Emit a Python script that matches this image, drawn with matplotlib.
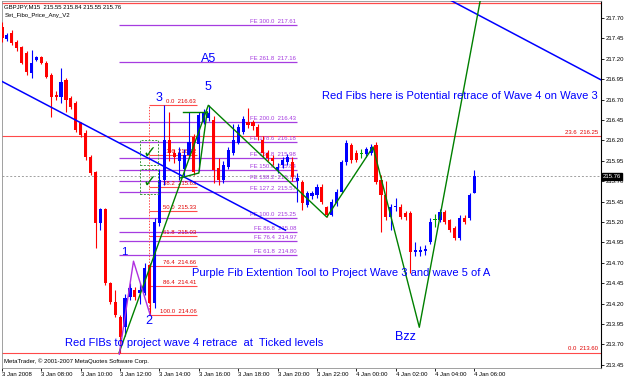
import numpy as np
import matplotlib
matplotlib.use('Agg')
import matplotlib.pyplot as plt
from matplotlib.patches import Rectangle

plt.rcParams['font.family'] = ['Liberation Sans', 'DejaVu Sans']

# ---------------------------------------------------------
# GBPJPY M15 bars, 3 Jan 2008 06:00 -> 4 Jan 2008 06:00
# (x axis is hours after 3 Jan 00:00)
# ---------------------------------------------------------
opens = [217.59, 217.44, 217.52, 217.41, 217.34, 217.27, 217.03, 217.19,
         217.22, 217.15, 217.00, 216.76, 216.73, 216.94, 216.72, 216.66,
         216.41, 216.29, 216.00, 215.81, 215.19, 215.36, 214.45, 214.22,
         214.04, 213.91, 214.28, 214.37, 214.33, 214.33, 214.67, 214.21,
         215.19, 215.71, 216.20, 216.05, 215.95, 215.85, 216.02, 216.24,
         216.15, 216.43, 216.47, 216.45, 215.86, 215.71, 215.87, 216.05,
         216.17, 216.30, 216.43, 216.42, 216.36, 216.20, 216.05, 215.99,
         215.84, 215.90, 215.94, 215.94, 215.70, 215.69, 215.41, 215.52,
         215.53, 215.63, 215.38, 215.29, 215.43, 215.57, 215.94, 216.14,
         216.05, 216.03, 216.03, 216.05, 216.14, 215.71, 215.53, 215.26,
         215.38, 215.38, 215.31, 215.31, 214.83, 214.83, 214.84, 214.95,
         215.22, 215.22, 215.32, 215.22, 215.13, 215.00, 215.25, 215.25,
         215.55]
highs = [217.65, 217.52, 217.55, 217.43, 217.36, 217.29, 217.31, 217.24,
         217.23, 217.17, 217.02, 216.80, 217.09, 216.97, 216.74, 216.68,
         216.43, 216.33, 216.02, 215.83, 215.37, 215.37, 214.47, 214.37,
         214.06, 214.32, 214.45, 214.40, 214.45, 214.70, 214.70, 215.25,
         215.85, 216.63, 216.55, 216.10, 216.12, 216.10, 216.55, 216.28,
         216.55, 216.58, 216.63, 216.50, 215.98, 215.95, 216.12, 216.40,
         216.40, 216.50, 216.60, 216.45, 216.40, 216.25, 216.08, 216.02,
         215.92, 216.00, 216.03, 216.00, 215.80, 215.72, 215.58, 215.58,
         215.66, 215.66, 215.40, 215.48, 215.60, 215.96, 216.20, 216.17,
         216.08, 216.10, 216.12, 216.16, 216.18, 215.78, 215.70, 215.42,
         215.50, 215.42, 215.33, 215.33, 214.96, 214.90, 214.92, 215.25,
         215.30, 215.36, 215.35, 215.24, 215.15, 215.28, 215.28, 215.55,
         215.84]
lows = [217.40, 217.42, 217.37, 217.30, 217.13, 217.00, 216.96, 217.17,
        217.13, 216.96, 216.49, 216.70, 216.66, 216.55, 216.58, 216.30,
        216.24, 215.96, 215.78, 214.88, 215.10, 214.43, 214.20, 214.04,
        213.60, 213.80, 214.25, 214.25, 214.20, 214.30, 214.06, 214.15,
        215.15, 215.65, 215.95, 215.92, 215.72, 215.75, 215.98, 215.77,
        215.82, 216.40, 216.44, 215.68, 215.65, 215.68, 215.85, 216.02,
        216.15, 216.28, 216.35, 216.33, 216.20, 216.00, 215.95, 215.90,
        215.80, 215.86, 215.90, 215.70, 215.45, 215.35, 215.38, 215.48,
        215.50, 215.42, 215.26, 215.27, 215.40, 215.55, 215.90, 215.92,
        215.93, 215.98, 216.00, 216.02, 215.66, 215.08, 215.22, 215.10,
        215.34, 215.24, 215.22, 214.58, 214.78, 214.78, 214.80, 214.93,
        215.14, 215.20, 215.18, 215.08, 214.98, 214.98, 215.18, 215.23,
        215.55]
closes = [217.455, 217.49, 217.39, 217.33, 217.15, 217.04, 217.15, 217.22,
          217.15, 216.98, 216.73, 216.73, 216.92, 216.70, 216.61, 216.33,
          216.27, 216.00, 215.80, 215.19, 215.36, 214.45, 214.22, 214.06,
          213.79, 214.27, 214.39, 214.28, 214.37, 214.64, 214.21, 215.20,
          215.71, 216.20, 216.05, 216.00, 216.05, 216.02, 216.18, 215.81,
          216.51, 216.54, 216.53, 215.84, 215.71, 215.90, 216.08, 216.20,
          216.36, 216.46, 216.39, 216.38, 216.24, 216.05, 215.99, 215.95,
          215.88, 215.96, 216.00, 215.75, 215.74, 215.43, 215.55, 215.55,
          215.63, 215.45, 215.29, 215.45, 215.57, 215.94, 216.17, 215.96,
          215.96, 216.03, 216.09, 216.12, 215.69, 215.53, 215.26, 215.38,
          215.40, 215.26, 215.26, 214.83, 214.86, 214.86, 214.87, 215.20,
          215.22, 215.32, 215.20, 215.10, 215.00, 215.25, 215.20, 215.53,
          215.76]
bar_hours = 6 + 0.25 * np.arange(len(opens))

# time axis labels (every 2 hours)
tick_hours = [6, 8, 10, 12, 14, 16, 18, 20, 22, 24, 26, 28, 30]
tick_labels = ['3 Jan 2008', '3 Jan 08:00', '3 Jan 10:00', '3 Jan 12:00',
               '3 Jan 14:00', '3 Jan 16:00', '3 Jan 18:00', '3 Jan 20:00',
               '3 Jan 22:00', '4 Jan 00:00', '4 Jan 02:00', '4 Jan 04:00',
               '4 Jan 06:00']
price_ticks = [213.45, 213.70, 213.95, 214.20, 214.45, 214.70, 214.95,
               215.20, 215.45, 215.70, 215.95, 216.20, 216.45, 216.70,
               216.95, 217.20, 217.45, 217.70]

# purple fib expansion (wave 1 projected off the wave 2 low)
fe_ratios = ['300.0', '261.8', '200.0', '178.6', '161.8', '150.0', '138.2',
             '127.2', '100.0', '86.8', '76.4', '61.8']
fe_prices = [217.61, 217.16, 216.43, 216.18, 215.98, 215.84, 215.70,
             215.57, 215.25, 215.08, 214.97, 214.80]
fe_span = [11.96, 21.0]

# red fib retracement of wave 3 (214.06 -> 216.63)
rf_ratios = ['0.0', '23.6', '38.2', '50.0', '61.8', '76.4', '86.4', '100.0']
rf_prices = [216.63, 216.02, 215.63, 215.33, 215.03, 214.66, 214.41, 214.06]
rf_span = [13.48, 15.92]

# long red fib levels over the whole chart
big_fib_ratios = ['23.6', '0.0']
big_fib_prices = [216.25, 213.60]
top_red_level = 217.885

# wave drawings
green_wave_t = [11.95, 16.48, 22.5, 24.85, 27.2, 30.4]
green_wave_p = [213.60, 216.63, 215.26, 216.12, 213.91, 218.05]
green_w4_t = [15.05, 16.0, 16.42]
green_w4_p = [215.74, 215.80, 216.55]
green_flat_t = [15.2, 16.42]
green_flat_p = [216.55, 216.55]
purple_wave_t = [11.96, 12.68, 13.53]
purple_wave_p = [213.58, 214.72, 214.06]
channel1_t = [5.9, 20.4]
channel1_p = [216.935, 215.10]
channel2_t = [28.76, 36.6]
channel2_p = [217.92, 216.92]

wave_labels = ['1', '2', '3', '5', 'A5', 'Bzz']
wave_label_t = [12.21, 13.48, 14.0, 16.48, 16.48, 26.48]
wave_label_p = [214.83, 213.99, 216.72, 216.85, 217.20, 213.79]

# ticked retrace levels (boxes around the check marks)
tick_box_t = [13.03, 13.03]
tick_box_lo = [215.90, 215.54]
tick_box_hi = [216.205, 215.85]

last_price = 215.76

# ---------------------------------------------------------
# Figure
# ---------------------------------------------------------
fig = plt.figure(figsize=(6.25, 3.8), dpi=100)
ax = fig.add_axes([2 / 625, 12 / 380, 599 / 625, 367 / 380])
ax.set_xlim(6.02, 36.43)
ax.set_ylim(213.411, 217.908)

bull = '#0000FF'
bear = '#FF0000'
purple = '#A63CE0'
red_fib = '#FF4A4A'
small = dict(family='Liberation Sans', fontsize=4.3)

# current price line
ax.axhline(last_price, color='#A0A0A0', lw=0.7, ls=(0, (2, 2)), zorder=1)

# long red levels
ax.axhline(top_red_level, color=red_fib, lw=0.9, zorder=1)
for r, p in zip(big_fib_ratios, big_fib_prices):
    ax.axhline(p, color=red_fib, lw=0.8, zorder=1)
    ax.text(36.3, p + 0.015, r + '  ' + '%.2f' % p, color='#E00000',
            ha='right', va='bottom', **small)

# purple FE levels
for r, p in zip(fe_ratios, fe_prices):
    ax.hlines(p, fe_span[0], fe_span[1], color=purple, lw=0.9, zorder=1)
    ax.text(fe_span[1] - 0.05, p + 0.012, 'FE ' + r + '  ' + '%.2f' % p,
            color=purple, ha='right', va='bottom', zorder=2, **small)

# red retracement levels + dotted connector
for r, p in zip(rf_ratios, rf_prices):
    ax.hlines(p, rf_span[0], rf_span[1], color=red_fib, lw=0.8, zorder=1)
    ax.text(rf_span[1] - 0.05, p + 0.012, r + '  ' + '%.2f' % p,
            color='#E00000', ha='right', va='bottom', zorder=2, **small)
ax.vlines(rf_span[0], rf_prices[-1], rf_prices[0], color=red_fib, lw=0.7,
          ls=(0, (1.5, 1.5)), zorder=1)

# candles
opens_a = np.array(opens)
closes_a = np.array(closes)
colors = np.where(closes_a > opens_a, bull, bear)
colors = np.where(np.abs(closes_a - opens_a) < 0.005, '#00A000', colors)
ax.vlines(bar_hours, lows, highs, color=colors, lw=0.8, zorder=3)
body = np.where(np.abs(closes_a - opens_a) < 0.01, 0.012, closes_a - opens_a)
ax.bar(bar_hours, body, bottom=opens_a, width=0.16, color=colors,
       linewidth=0, zorder=4)

# trend channel
ax.plot(channel1_t, channel1_p, color='#0000FF', lw=1.1, zorder=5)
ax.plot(channel2_t, channel2_p, color='#0000FF', lw=1.1, zorder=5)

# wave lines
ax.plot(green_wave_t, green_wave_p, color='#008000', lw=1.0, zorder=6)
ax.plot(green_w4_t, green_w4_p, color='#008000', lw=1.0, zorder=6)
ax.plot(green_flat_t, green_flat_p, color='#008000', lw=1.0, zorder=6)
ax.plot(purple_wave_t, purple_wave_p, color='#B030E0', lw=1.0, zorder=6)

# check-mark boxes
for t, lo, hi in zip(tick_box_t, tick_box_lo, tick_box_hi):
    ax.add_patch(Rectangle((t, lo), 0.91, hi - lo, fill=False,
                           edgecolor='#3C9A3C', lw=0.7, ls=(0, (2, 1.5)),
                           zorder=7))
    ax.text(t + 0.45, (lo + hi) / 2, '\u2713', color='#008000', fontsize=12,
            fontweight='bold', ha='center', va='center', family='DejaVu Sans',
            zorder=7)

# wave labels
for lab, t, p in zip(wave_labels, wave_label_t, wave_label_p):
    ax.text(t, p, lab, color='#0000FF', fontsize=9 if lab != '1' else 8,
            ha='center', va='center', zorder=8)

# notes
ax.text(22.26, 216.74, 'Red Fibs here is Potential retrace of Wave 4 on Wave 3',
        color='#0000FF', fontsize=8, ha='left', va='center', zorder=8)
ax.text(15.66, 214.575, 'Purple Fib Extention Tool to Project Wave 3 and wave 5 of A',
        color='#0000FF', fontsize=8, ha='left', va='center', zorder=8)
ax.text(9.22, 213.72, 'Red FIBs to project wave 4 retrace  at  Ticked levels',
        color='#0000FF', fontsize=8, ha='left', va='center', zorder=8)

# header / footer text
ax.text(0.004, 0.992, 'GBPJPY,M15  215.55 215.84 215.55 215.76',
        transform=ax.transAxes, ha='left', va='top', **small)
ax.text(0.004, 0.967, 'Set_Fibo_Price_Any_V2', transform=ax.transAxes,
        ha='left', va='top', **small)
ax.text(0.004, 0.012, 'MetaTrader, \u00a9 2001-2007 MetaQuotes Software Corp.',
        transform=ax.transAxes, ha='left', va='bottom', **small)

# axes styling (MetaTrader look)
ax.yaxis.tick_right()
ax.set_yticks(price_ticks)
ax.set_yticklabels(['%.2f' % v for v in price_ticks])
ax.set_xticks(tick_hours)
ax.set_xticklabels(tick_labels)
for lab in ax.get_xticklabels():
    lab.set_horizontalalignment('left')
ax.tick_params(axis='y', labelsize=4.3, length=2, pad=1.2, width=0.6,
               colors='#000000')
ax.tick_params(axis='x', labelsize=4.3, length=2, pad=1.2, width=0.6)
for lab in ax.get_xticklabels() + ax.get_yticklabels():
    lab.set_family('Liberation Sans')
for side in ['left', 'top', 'bottom']:
    ax.spines[side].set_color('#909090')
    ax.spines[side].set_linewidth(0.6)
ax.spines['right'].set_color('#000000')
ax.spines['right'].set_linewidth(0.8)

# last price marker on the price scale
ax.text(1.003, last_price, '%.2f' % last_price, color='white',
        ha='left', va='center', transform=ax.get_yaxis_transform(),
        bbox=dict(facecolor='black', edgecolor='black', pad=0.5), **small)

fig.savefig('out.png', dpi=100)
